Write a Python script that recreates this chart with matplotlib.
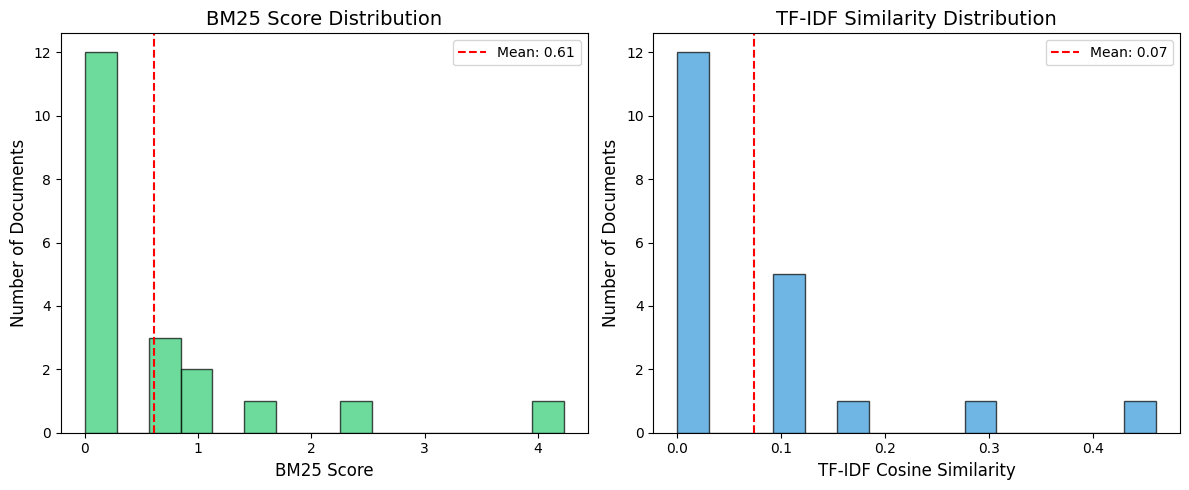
import matplotlib
matplotlib.use("Agg")
import matplotlib.pyplot as plt
import numpy as np

# per-document scores (20 documents)
bm25_scores = [0.0, 0.0, 0.0, 0.0, 0.0, 0.0, 0.0, 0.0, 0.0, 0.0, 0.0, 0.0,
               0.62, 0.70, 0.76, 0.93, 1.02, 1.55, 2.40, 4.225]
tfidf_scores = [0.0, 0.0, 0.0, 0.0, 0.0, 0.0, 0.0, 0.0, 0.0, 0.0, 0.005, 0.012,
                0.098, 0.104, 0.107, 0.111, 0.115, 0.17, 0.29, 0.4603]


def draw(ax, scores, color, title, xlabel):
    mean = np.mean(scores)
    ax.hist(scores, bins=15, color=color, alpha=0.7, edgecolor="black")
    ax.axvline(mean, color="red", linestyle="--", label=f"Mean: {mean:.2f}")
    ax.set_title(title, fontsize=14)
    ax.set_xlabel(xlabel, fontsize=12)
    ax.set_ylabel("Number of Documents", fontsize=12)
    ax.legend()


fig, (ax1, ax2) = plt.subplots(1, 2, figsize=(12, 5), dpi=100)
draw(ax1, bm25_scores, "#2ecc71", "BM25 Score Distribution", "BM25 Score")
draw(ax2, tfidf_scores, "#3498db", "TF-IDF Similarity Distribution", "TF-IDF Cosine Similarity")
fig.tight_layout()
fig.savefig("out.png", bbox_inches="tight")
